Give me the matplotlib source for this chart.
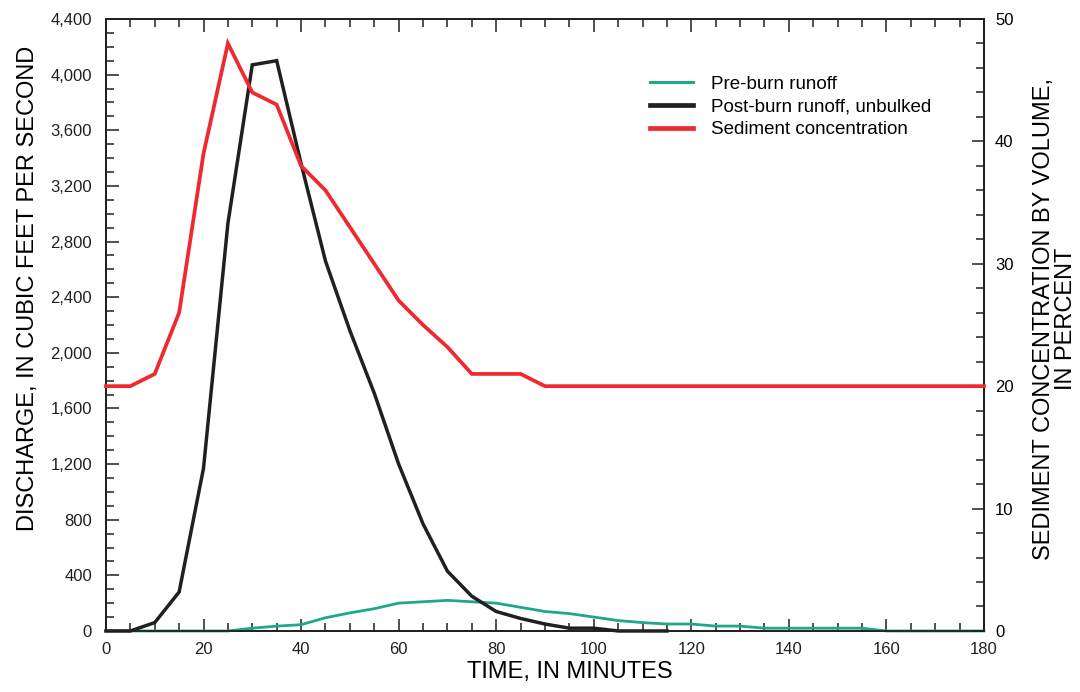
import numpy as np
import matplotlib.pyplot as plt
from matplotlib.ticker import MultipleLocator, FuncFormatter
from matplotlib.lines import Line2D

plt.rcParams['font.family'] = ['Liberation Sans', 'DejaVu Sans']

# time steps, minutes
minutes = np.arange(0, 185, 5)

# discharge before the burn, cubic feet per second
pre_burn = [0, 0, 0, 0, 0, 0, 20, 35, 45, 95, 130, 160, 200, 210, 220, 210,
            200, 170, 140, 125, 100, 75, 60, 50, 50, 35, 35, 20, 20, 20, 20, 20,
            0, 0, 0, 0, 0]

# discharge after the burn (unbulked), ends at 115 minutes
post_minutes = np.arange(0, 120, 5)
post_burn = [0, 0, 60, 280, 1170, 2930, 4070, 4100, 3360, 2660, 2160, 1710,
             1200, 770, 430, 250, 140, 90, 50, 20, 20, 0, 0, 0]

# sediment concentration by volume, percent
sediment = [20, 20, 21, 26, 39, 48, 44, 43, 38, 36, 33, 30, 27, 25, 23.2, 21,
            21, 21, 20, 20, 20, 20, 20, 20, 20, 20, 20, 20, 20, 20, 20, 20,
            20, 20, 20, 20, 20]

green = '#1ea888'
black = '#231f20'
red = '#ee2a30'

fig = plt.figure(figsize=(10.8, 6.92), dpi=100)
ax = fig.add_axes([0.0981, 0.0882, 0.8130, 0.8844])
ax2 = ax.twinx()

ax.plot(minutes, pre_burn, color=green, lw=2.0, clip_on=False, zorder=4,
        solid_joinstyle='miter')
ax.plot(post_minutes, post_burn, color=black, lw=2.5, clip_on=False, zorder=5,
        solid_joinstyle='miter')
ax2.plot(minutes, sediment, color=red, lw=2.7, clip_on=False, zorder=3,
         solid_joinstyle='miter')

ax.set_xlim(0, 180)
ax.set_ylim(0, 4400)
ax2.set_ylim(0, 50)

ax.xaxis.set_major_locator(MultipleLocator(20))
ax.xaxis.set_minor_locator(MultipleLocator(5))
ax.yaxis.set_major_locator(MultipleLocator(400))
ax.yaxis.set_minor_locator(MultipleLocator(100))
ax.yaxis.set_major_formatter(FuncFormatter(lambda v, p: f'{int(v):,}'))
ax2.yaxis.set_major_locator(MultipleLocator(10))
ax2.yaxis.set_minor_locator(MultipleLocator(2))

tick_color = '#231f20'
ax.tick_params(axis='both', which='major', direction='in', length=9, width=1.1,
               labelsize=12, color=tick_color, top=True, labelcolor='#231f20')
ax.tick_params(axis='both', which='minor', direction='in', length=6, width=1.1,
               color=tick_color, top=True)
ax.tick_params(axis='x', pad=8)
ax.tick_params(axis='y', pad=10)
ax2.tick_params(axis='y', which='major', direction='in', length=9, width=1.1,
                labelsize=12, color=tick_color, pad=8)
ax2.tick_params(axis='y', which='minor', direction='in', length=6, width=1.1,
                color=tick_color)

for a in (ax, ax2):
    for sp in a.spines.values():
        sp.set_linewidth(1.3)
        sp.set_color('#231f20')

ax.set_xlabel('TIME, IN MINUTES', fontsize=17, labelpad=3, x=0.528)
ax.set_ylabel('DISCHARGE, IN CUBIC FEET PER SECOND', fontsize=17, labelpad=8,
              y=0.56)
ax2.set_ylabel('SEDIMENT CONCENTRATION BY VOLUME,\nIN PERCENT', fontsize=17,
               rotation=90, labelpad=14, linespacing=1.0, y=0.51)

handles = [Line2D([], [], color=green, lw=2.2),
           Line2D([], [], color=black, lw=3.4),
           Line2D([], [], color=red, lw=3.4)]
labels = ['Pre-burn runoff', 'Post-burn runoff, unbulked', 'Sediment concentration']
ax2.legend(handles, labels, loc='upper left', bbox_to_anchor=(0.6, 0.935),
           frameon=False, fontsize=13.5, handlelength=2.3, handletextpad=0.95,
           labelspacing=0.3)

fig.savefig('out.png', dpi=100)
